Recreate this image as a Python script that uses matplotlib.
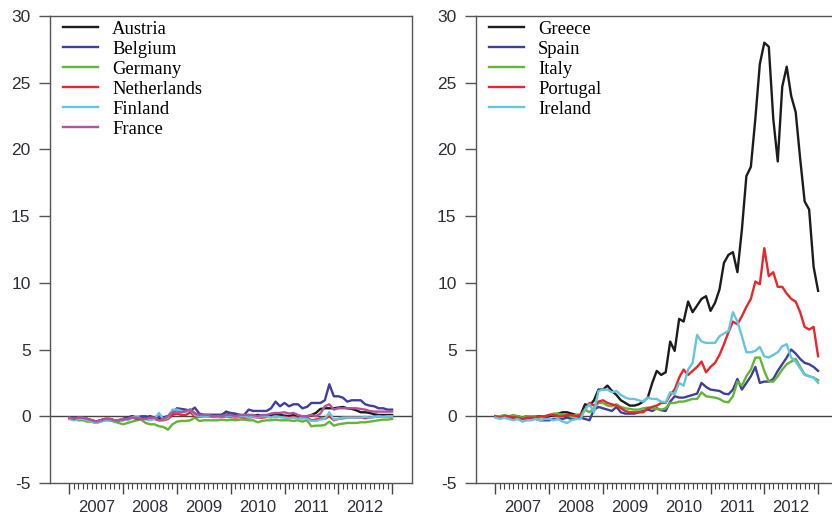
import numpy as np
import matplotlib
matplotlib.use("Agg")
import matplotlib.pyplot as plt
from matplotlib.transforms import blended_transform_factory

# monthly values, Jan 2007 .. Jan 2013 (73 points)
austria = [-0.1, -0.2, -0.1, -0.2, -0.2, -0.3, -0.4, -0.3, -0.2, -0.2, -0.3, -0.3,
           -0.2, -0.1, 0.0, -0.1, -0.1, -0.1, 0.0, -0.1, -0.2, -0.1, 0.0, 0.4,
           0.5, 0.4, 0.4, 0.5, 0.2, 0.1, 0.1, 0.1, 0.1, 0.1, 0.1, 0.35,
           0.2, 0.15, 0.1, 0.0, 0.1, 0.05, 0.1, 0.05, 0.0, 0.1, 0.1, 0.1,
           0.05, 0.0, 0.1, 0.0, -0.1, 0.0, 0.1, 0.25, 0.55, 0.6, 0.6, 0.6,
           0.65, 0.7, 0.6, 0.55, 0.45, 0.3, 0.3, 0.25, 0.15, 0.1, 0.1, 0.1, 0.1]
belgium = [-0.1, -0.2, -0.1, -0.2, -0.2, -0.4, -0.5, -0.3, -0.2, -0.3, -0.3, -0.3,
           -0.2, -0.1, 0.0, -0.1, 0.0, 0.0, -0.1, -0.1, 0.0, -0.1, 0.0, 0.2,
           0.6, 0.55, 0.5, 0.4, 0.65, 0.2, 0.1, 0.1, 0.1, 0.1, 0.1, 0.3,
           0.25, 0.2, 0.1, 0.1, 0.5, 0.4, 0.4, 0.4, 0.4, 0.6, 1.1, 0.75,
           1.0, 0.75, 0.9, 0.9, 0.6, 0.7, 1.0, 1.0, 1.0, 1.2, 2.4, 1.5,
           1.5, 1.4, 1.1, 1.2, 1.2, 1.2, 0.9, 0.8, 0.75, 0.6, 0.6, 0.5, 0.5]
germany = [-0.2, -0.2, -0.3, -0.3, -0.4, -0.4, -0.5, -0.4, -0.3, -0.3, -0.4, -0.5,
           -0.6, -0.5, -0.4, -0.3, -0.25, -0.5, -0.6, -0.6, -0.75, -0.8, -1.0, -0.6,
           -0.4, -0.35, -0.35, -0.3, -0.1, -0.35, -0.3, -0.3, -0.3, -0.3, -0.25, -0.3,
           -0.25, -0.3, -0.25, -0.25, -0.3, -0.3, -0.45, -0.35, -0.3, -0.3, -0.25, -0.3,
           -0.3, -0.3, -0.35, -0.3, -0.4, -0.3, -0.75, -0.7, -0.7, -0.65, -0.4, -0.7,
           -0.6, -0.55, -0.5, -0.5, -0.5, -0.45, -0.45, -0.4, -0.35, -0.3, -0.25, -0.25, -0.2]
netherlands = [-0.1, -0.2, -0.1, -0.2, -0.2, -0.3, -0.4, -0.3, -0.2, -0.2, -0.3, -0.3,
               -0.3, -0.2, -0.1, -0.2, -0.2, -0.2, -0.2, -0.2, -0.3, -0.3, -0.2, 0.1,
               0.2, 0.1, 0.1, 0.3, 0.0, -0.05, 0.0, 0.0, -0.05, -0.05, -0.05, 0.0,
               -0.05, -0.1, -0.05, -0.1, -0.1, -0.05, -0.1, -0.1, -0.05, -0.05, 0.0, -0.05,
               -0.05, -0.1, -0.05, -0.1, -0.15, -0.1, -0.3, -0.25, -0.15, -0.2, 0.0, -0.3,
               -0.2, -0.15, -0.1, -0.1, -0.1, -0.1, -0.15, -0.1, -0.05, 0.0, 0.0, 0.0, 0.0]
finland = [-0.2, -0.3, -0.2, -0.2, -0.3, -0.4, -0.5, -0.4, -0.3, -0.3, -0.3, -0.3,
           -0.2, -0.3, -0.1, 0.0, -0.2, -0.2, -0.3, -0.2, 0.25, -0.25, -0.1, 0.5,
           0.5, 0.4, 0.3, 0.5, 0.1, 0.0, 0.0, 0.0, 0.0, -0.05, 0.0, 0.05,
           0.0, -0.05, 0.0, 0.0, -0.1, 0.0, -0.1, 0.0, 0.0, -0.1, 0.0, -0.05,
           -0.1, -0.15, -0.1, -0.2, -0.1, -0.2, -0.35, -0.35, -0.25, -0.2, 0.3, -0.25,
           -0.2, -0.1, -0.1, -0.1, -0.1, -0.1, -0.05, -0.1, -0.05, 0.0, -0.05, 0.0, 0.0]
france = [-0.1, -0.2, -0.1, -0.1, -0.2, -0.3, -0.4, -0.3, -0.2, -0.2, -0.3, -0.3,
          -0.2, -0.2, -0.1, -0.1, -0.2, -0.2, -0.1, -0.1, -0.3, -0.2, 0.0, 0.3,
          0.3, 0.3, 0.4, 0.5, 0.2, 0.1, 0.1, 0.1, 0.0, 0.0, 0.0, 0.1,
          0.1, 0.0, 0.1, 0.1, 0.1, 0.1, 0.0, 0.1, 0.1, 0.2, 0.25, 0.25,
          0.3, 0.2, 0.25, 0.1, 0.0, 0.0, 0.1, 0.0, 0.2, 0.75, 0.9, 0.5,
          0.6, 0.6, 0.6, 0.6, 0.6, 0.55, 0.5, 0.4, 0.35, 0.35, 0.35, 0.35, 0.35]

greece = [0.0, -0.1, 0.0, -0.1, -0.1, 0.0, -0.1, 0.0, -0.1, 0.0, 0.0, -0.1,
          0.0, 0.1, 0.2, 0.3, 0.3, 0.2, 0.1, 0.1, 0.9, 0.8, 1.2, 2.0,
          2.0, 2.3, 1.9, 1.6, 1.2, 1.0, 0.8, 0.8, 0.9, 1.1, 1.4, 2.5,
          3.4, 3.1, 3.3, 5.6, 4.9, 7.3, 7.1, 8.6, 7.8, 8.3, 8.8, 9.0,
          7.9, 8.5, 9.5, 11.5, 12.1, 12.3, 10.8, 14.0, 18.0, 18.7, 22.3, 26.4,
          28.0, 27.7, 22.3, 19.1, 24.7, 26.2, 24.0, 22.8, 19.3, 16.1, 15.5, 11.2, 9.4]
spain = [0.0, -0.1, 0.0, -0.1, -0.1, -0.2, -0.2, -0.2, -0.1, -0.2, -0.3, -0.3,
         -0.3, -0.2, -0.2, -0.2, -0.1, -0.2, -0.2, -0.1, -0.2, -0.3, 0.5, 0.7,
         0.6, 0.5, 0.4, 0.7, 0.3, 0.2, 0.2, 0.2, 0.3, 0.4, 0.5, 0.4,
         0.6, 0.45, 0.4, 1.1, 1.5, 1.4, 1.4, 1.5, 1.6, 1.7, 2.5, 2.2,
         2.0, 1.95, 1.9, 1.7, 1.65, 2.0, 2.8, 2.0, 2.5, 3.0, 3.7, 2.5,
         2.6, 2.6, 2.8, 3.4, 3.9, 4.4, 5.0, 4.7, 4.3, 4.0, 3.9, 3.7, 3.4]
italy = [0.0, 0.0, 0.1, 0.0, 0.1, 0.0, -0.1, 0.0, 0.0, 0.0, -0.1, 0.0,
         0.1, 0.2, 0.2, 0.1, 0.1, 0.0, 0.1, 0.1, 0.5, 0.3, 0.6, 1.0,
         1.0, 0.8, 0.75, 0.9, 0.7, 0.6, 0.55, 0.5, 0.5, 0.6, 0.65, 0.6,
         0.55, 0.5, 0.6, 1.0, 1.0, 1.1, 1.1, 1.2, 1.3, 1.3, 1.8, 1.5,
         1.45, 1.4, 1.3, 1.1, 1.05, 1.5, 2.6, 2.3, 3.0, 3.5, 4.4, 4.4,
         3.4, 2.6, 2.6, 3.0, 3.5, 3.9, 4.1, 4.3, 3.7, 3.15, 3.0, 2.9, 2.7]
portugal = [0.0, -0.1, 0.0, 0.0, -0.1, -0.1, -0.2, -0.1, -0.1, -0.1, 0.0, 0.0,
            0.1, 0.1, 0.0, 0.0, 0.1, 0.1, 0.0, 0.1, 0.5, 1.0, 0.8, 1.1,
            1.2, 1.0, 0.9, 0.8, 0.6, 0.4, 0.3, 0.3, 0.3, 0.3, 0.6, 0.7,
            0.8, 1.0, 1.0, 1.6, 2.0, 2.9, 3.5, 3.1, 3.4, 3.7, 4.1, 3.3,
            3.7, 4.0, 4.6, 5.4, 6.3, 7.1, 6.9, 7.5, 8.2, 8.8, 10.1, 9.9,
            12.6, 10.5, 10.8, 9.7, 9.7, 9.2, 8.8, 8.6, 7.8, 6.7, 6.5, 6.7, 4.5]
ireland = [-0.1, -0.2, -0.1, -0.2, -0.3, -0.2, -0.4, -0.3, -0.3, -0.2, -0.3, -0.2,
           -0.2, -0.3, -0.2, -0.4, -0.5, -0.3, -0.2, -0.2, 0.5, 0.9, 0.3, 1.9,
           2.0, 2.0, 1.8, 1.9, 1.6, 1.4, 1.3, 1.3, 1.2, 1.1, 1.4, 1.3,
           1.3, 1.1, 1.05, 1.8, 1.65, 2.5, 2.3, 3.5, 4.0, 6.1, 5.6, 5.5,
           5.5, 5.5, 6.0, 6.2, 6.4, 7.8, 7.1, 6.0, 4.8, 4.8, 4.9, 5.2,
           4.5, 4.4, 4.6, 4.8, 5.25, 5.4, 4.4, 4.1, 3.6, 3.1, 3.0, 2.9, 2.5]

years = [2007, 2008, 2009, 2010, 2011, 2012]

c_black = "#1c1c1c"
c_blue = "#3f3f9c"
c_green = "#63b536"
c_red = "#e8262c"
c_cyan = "#64c5de"
c_purple = "#b3529f"

left_series = [("Austria", austria, c_black), ("Belgium", belgium, c_blue),
               ("Germany", germany, c_green), ("Netherlands", netherlands, c_red),
               ("Finland", finland, c_cyan), ("France", france, c_purple)]
right_series = [("Greece", greece, c_black), ("Spain", spain, c_blue),
                ("Italy", italy, c_green), ("Portugal", portugal, c_red),
                ("Ireland", ireland, c_cyan)]

t = 2007 + np.arange(73) / 12.0

fig = plt.figure(figsize=(8.32, 5.16), dpi=100)
ax1 = fig.add_axes([50 / 832, 33 / 516, 362 / 832, 467 / 516])
ax2 = fig.add_axes([476 / 832, 33 / 516, 362 / 832, 467 / 516])

ytick_font = dict(family="Liberation Sans", size=12.5, color="#2e2e38")
xtick_font = dict(family="Liberation Sans", size=12, color="#2e2e38")

for ax, series in [(ax1, left_series), (ax2, right_series)]:
    ax.axhline(0, color="#444444", lw=1.0, zorder=1)
    for name, vals, col in series:
        ax.plot(t, vals, color=col, lw=1.7, label=name, zorder=2)
    ax.set_xlim(2006.64, 2013.37)
    ax.set_ylim(-5, 30)
    ax.set_yticks(range(-5, 31, 5))
    ax.set_yticklabels([str(v) for v in range(-5, 31, 5)], **ytick_font)
    ax.set_xticks(range(2007, 2014))
    ax.set_xticklabels([])
    ax.set_xticks(t, minor=True)
    ax.tick_params(axis="y", length=8, width=1.0, color="#555555", pad=6)
    ax.tick_params(axis="x", which="major", length=8, width=1.0, color="#444444")
    ax.tick_params(axis="x", which="minor", length=4.5, width=0.8, color="#444444")
    for s in ax.spines.values():
        s.set_color("#555555")
        s.set_linewidth(1.0)
    trans = blended_transform_factory(ax.transData, ax.transAxes)
    for y in years:
        ax.text(y + 0.5, -0.053, str(y), transform=trans, ha="center", va="center",
                **xtick_font)
    ax.legend(loc="upper left", bbox_to_anchor=(0.035, 0.99), frameon=False,
              prop=dict(family="Liberation Serif", size=13.4),
              handlelength=1.9, handletextpad=0.75, labelspacing=0.16,
              borderpad=0.0, borderaxespad=0.0)

fig.savefig("out.png", dpi=100)
